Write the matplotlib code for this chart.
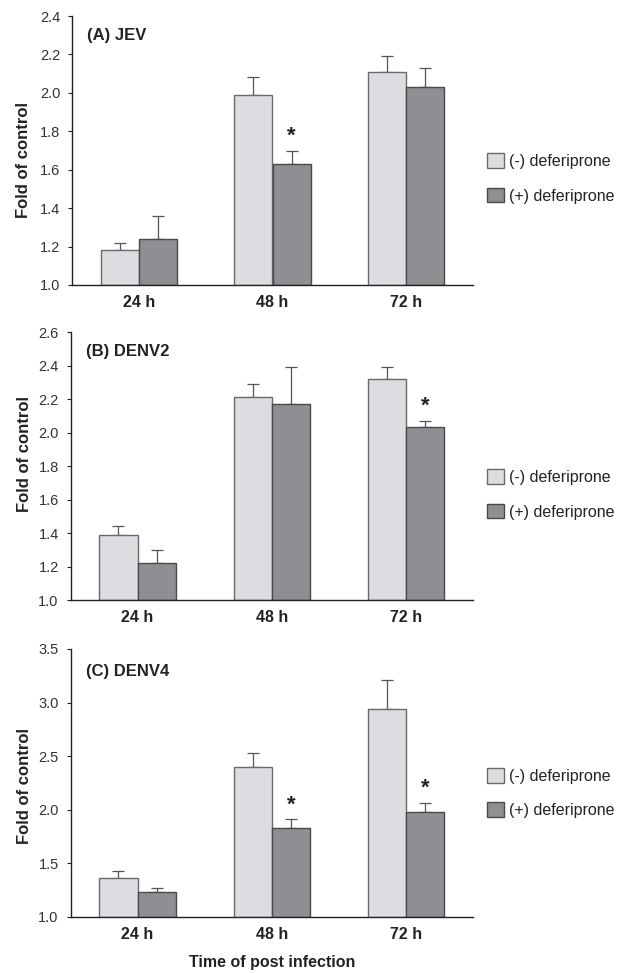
import matplotlib
matplotlib.use("Agg")
import matplotlib.pyplot as plt
from matplotlib.patches import Patch
import numpy as np

plt.rcParams['font.family'] = ['Liberation Sans', 'DejaVu Sans']

# ---- data ----
times = ['24 h', '48 h', '72 h']
series_labels = ['(-) deferiprone', '(+) deferiprone']

jev_minus = [1.18, 1.99, 2.11]
jev_minus_err = [0.04, 0.09, 0.08]
jev_plus = [1.24, 1.63, 2.03]
jev_plus_err = [0.12, 0.07, 0.10]
jev_sig = [False, True, False]

denv2_minus = [1.39, 2.21, 2.32]
denv2_minus_err = [0.05, 0.08, 0.07]
denv2_plus = [1.22, 2.17, 2.03]
denv2_plus_err = [0.08, 0.22, 0.04]
denv2_sig = [False, False, True]

denv4_minus = [1.36, 2.40, 2.94]
denv4_minus_err = [0.07, 0.13, 0.27]
denv4_plus = [1.23, 1.83, 1.98]
denv4_plus_err = [0.04, 0.08, 0.08]
denv4_sig = [False, True, True]

panel_titles = ['(A) JEV', '(B) DENV2', '(C) DENV4']
y_ticks = [np.arange(1.0, 2.41, 0.2), np.arange(1.0, 2.61, 0.2), np.arange(1.0, 3.51, 0.5)]

# ---- styling ----
LIGHT = '#dcdde0'
DARK = '#8e8f93'
EDGE = '#4a4a4a'
ERR = '#555555'
TXT = '#222222'

fig = plt.figure(figsize=(6.29, 9.73), dpi=100)
W, H = 629.0, 973.0

# axes boxes in pixels: left, right, top, bottom
boxes = [(72, 473, 16, 285), (70.5, 473, 332, 600), (70.5, 473, 649, 917)]
legend_y = [178.5, 494.5, 793]
title_pos = [(0.037, 0.929), (0.0385, 0.9265), (0.0385, 0.915)]
ylabel_y = [0.465, 0.543, 0.489]

panels = [
    (jev_minus, jev_minus_err, jev_plus, jev_plus_err, jev_sig),
    (denv2_minus, denv2_minus_err, denv2_plus, denv2_plus_err, denv2_sig),
    (denv4_minus, denv4_minus_err, denv4_plus, denv4_plus_err, denv4_sig),
]

x = np.arange(len(times))
bw = 0.285

for i, (mv, me, pv, pe, sig) in enumerate(panels):
    l, r, t, b = boxes[i]
    ax = fig.add_axes([l / W, 1 - b / H, (r - l) / W, (b - t) / H])
    ymin, ymax = y_ticks[i][0], y_ticks[i][-1]

    ax.errorbar(x - bw / 2, mv, yerr=[np.zeros(3), me], fmt='none', ecolor=ERR,
                elinewidth=0.9, capsize=4.5, capthick=0.9, zorder=1)
    ax.errorbar(x + bw / 2, pv, yerr=[np.zeros(3), pe], fmt='none', ecolor=ERR,
                elinewidth=0.9, capsize=4.5, capthick=0.9, zorder=1)
    ax.bar(x - bw / 2, np.array(mv) - ymin, bw, bottom=ymin, color=LIGHT,
           edgecolor='#6a6a6a', linewidth=1.0, zorder=2)
    ax.bar(x + bw / 2, np.array(pv) - ymin, bw, bottom=ymin, color=DARK,
           edgecolor=EDGE, linewidth=1.0, zorder=2)

    for j, s in enumerate(sig):
        if s:
            ax.annotate('*', xy=(x[j] + bw / 2, pv[j] + pe[j]), xytext=(0, 3),
                        textcoords='offset points', ha='center', va='bottom',
                        fontsize=16, fontweight='bold', color=TXT)

    ax.set_xlim(-0.5, 2.5)
    ax.set_ylim(ymin, ymax)
    ax.set_yticks(y_ticks[i])
    ax.set_yticklabels(['%.1f' % v for v in y_ticks[i]])
    ax.set_xticks(x)
    ax.set_xticklabels(times, fontweight='bold', fontsize=11.5, color=TXT)
    ax.tick_params(axis='x', length=0, pad=7)
    ax.tick_params(axis='y', direction='out', length=3, width=0.8, pad=5.5,
                   labelsize=10.5, labelcolor='#333333', color='#222222')
    for side in ('top', 'right'):
        ax.spines[side].set_visible(False)
    for side in ('left', 'bottom'):
        ax.spines[side].set_color('#222222')
        ax.spines[side].set_linewidth(1.0)

    ax.set_ylabel('Fold of control', fontweight='bold', fontsize=12, color=TXT)
    ax.yaxis.label.set_va('center')
    ax.yaxis.set_label_coords((24 - l) / (r - l), ylabel_y[i])

    ax.text(title_pos[i][0], title_pos[i][1], panel_titles[i], transform=ax.transAxes,
            fontweight='bold', fontsize=12, color=TXT, va='center', ha='left')

    handles = [Patch(facecolor=LIGHT, edgecolor='#6a6a6a', linewidth=1.0),
               Patch(facecolor=DARK, edgecolor=EDGE, linewidth=1.0)]
    ax.legend(handles, series_labels, loc='center left',
              bbox_to_anchor=(487 / W, 1 - legend_y[i] / H),
              bbox_transform=fig.transFigure, frameon=False, borderpad=0,
              borderaxespad=0, handlelength=1.05, handleheight=1.05,
              handletextpad=0.3, labelspacing=1.15, fontsize=11.5,
              labelcolor=TXT)

    if i == 2:
        ax.set_xlabel('Time of post infection', fontweight='bold', fontsize=11.5,
                      color=TXT)
        ax.xaxis.label.set_va('top')
        ax.xaxis.set_label_coords(0.5, -(955 - b) / (b - t))

fig.savefig('out.png', dpi=100)
